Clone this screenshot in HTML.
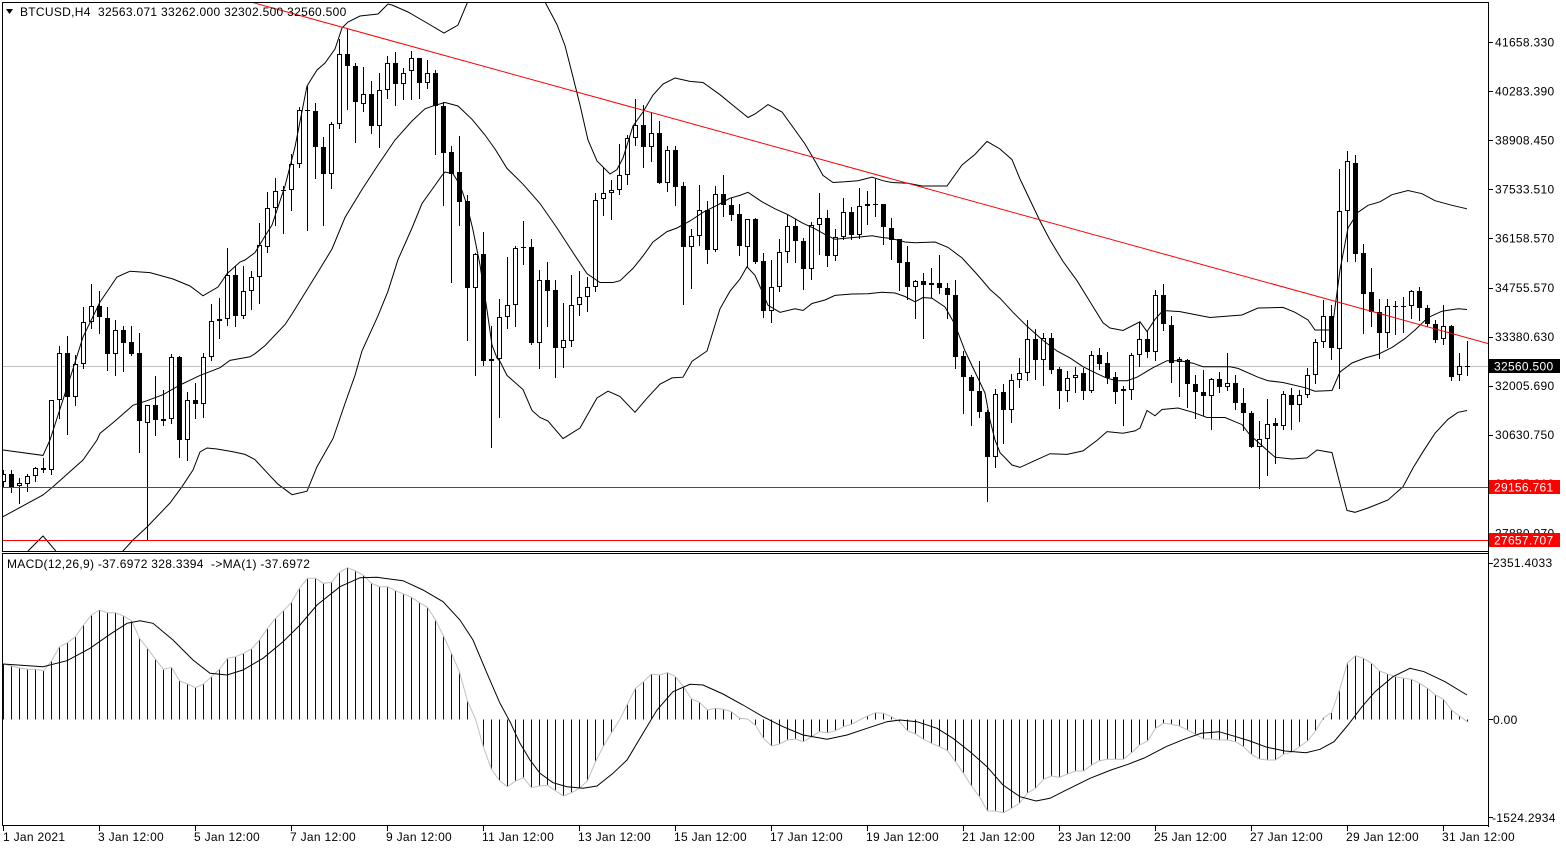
<!DOCTYPE html>
<html><head><meta charset="utf-8">
<style>
html,body{margin:0;padding:0;background:#fff;}
svg{display:block;}
text{font-family:"Liberation Sans",Arial,sans-serif;font-size:12px;letter-spacing:0.3px;fill:#000;}
</style></head><body>
<svg id="s" width="1566" height="850" viewBox="0 0 1566 850" xmlns="http://www.w3.org/2000/svg">
<defs>
<clipPath id="cm"><rect x="3" y="3" width="1485" height="548"/></clipPath>
<clipPath id="cd"><rect x="3" y="554" width="1485" height="271"/></clipPath>
</defs>
<rect width="1566" height="850" fill="#fff"/>

<g clip-path="url(#cm)">
 <line x1="3" y1="366.5" x2="1488" y2="366.5" stroke="#c0c0c0" shape-rendering="crispEdges"/>
 <g id="candles" shape-rendering="crispEdges"></g>
 <g fill="none" stroke="#000" stroke-width="1">
 <polyline points="0,449 3,450 43,455.4 50,440 60,409 72,372 83,337 100,302 117,277 130,271.2 150,272.6 173,279 190,286 203,295.8 218,287 227,273.7 240,262 245,260 255,252.6 265,236 272,225 285,186 295,147 307,86 317,70 325,63 335,49 342,28 348,22 360,16 378,14 388,4 392,5 408,12 427,23 444,33 458,25 467,3.5 480,-30 500,-50 530,-30 545,2 557,24.6 565,45.6 573,77 580,105 588,140 597,161 610,174 617,169.5 623,158 633,126 643,112 653,95 663,84 675,78 690,81.4 703,82.5 720,94.7 735,107 748,117.5 755,114 768,104.6 782,112 795,130 805,144 815,161 823,175.4 833,182.5 845,181.8 858,180.7 872,177.2 883,180.7 892,182.5 908,183.2 922,186 947,186 962,165 975,154.4 987,141.4 1000,149 1012,159.6 1020,179 1030,200 1040,221 1050,240 1063,261.4 1077,280.7 1090,301.8 1103,322.8 1110,328 1123,330.5 1140,321.8 1147,331.6 1155,319.3 1163,310.5 1180,311.6 1197,315 1210,317.5 1242,315 1258,308 1283,307.4 1295,312.3 1308,320 1315,330 1332,330 1340,270 1348,228 1358,212.3 1368,205.3 1380,201.8 1392,194.7 1408,190.5 1422,193.7 1435,200.7 1452,205.3 1467,208.8"/>
 <polyline points="0,518 3,516.7 43,495 53,486.7 83,460 97,440 100,433.3 113,422.8 133,405.3 147,400.7 163,394.7 180,385 200,375.4 220,367.7 230,360.4 250,356.8 255,353.7 265,345.6 285,324.6 292,314 305,293 318,272 332,249 345,217.5 362,189.5 378,165 395,140 412,121 425,108.8 435,105.3 445,102.5 458,106 472,119.3 485,135 495,149 507,168.4 523,184.2 540,203.5 557,228 573,252.6 587,273.7 600,282.5 613,282.5 620,280.7 633,268.4 643,256 653,242 667,231.6 677,228 690,221 703,212.3 717,205.3 730,198.2 740,195.4 748,192.3 762,201.8 775,208.8 788,214.7 802,222.8 815,228.8 825,234.4 835,239.3 848,238 862,236.8 872,235.8 882,237.5 892,238.6 905,242 915,242.8 935,242 948,247.4 962,257.9 975,272 985,283.5 990,289.5 1000,298.2 1013,312.3 1027,326.3 1043,340.4 1057,351 1070,357.9 1083,366.7 1097,373.7 1107,378.2 1117,380.7 1127,380.7 1137,377.2 1153,367.7 1167,360.7 1180,360.7 1193,363.2 1203,366.7 1230,366.7 1238,368.4 1258,377.2 1268,380.7 1283,382.5 1305,387.7 1315,391.2 1332,390.5 1340,372 1352,363 1365,358 1378,354.4 1392,347.4 1405,338.6 1415,330 1428,317.5 1442,311.2 1458,308.8 1467,309.5"/>
 <polyline points="3,580 29,550 43,536 55,550 75,580 100,580 123,551 133,540 147,527 170,503 182,486.7 193,470 200,452 207,448 217,449 233,451.7 245,454.4 255,459.6 268,473.7 278,484.2 292,494.7 307,491.2 317,466.7 325,452.6 333,438.6 345,403.5 355,375.4 362,350.9 378,315.8 388,291.2 398,259.6 412,228 422,203.5 432,189.5 442,175.4 445,172 453,173.7 460,185 467,205 473,230 480,265 487,310 492,345 497,358 500,361.4 507,375.4 523,389.5 532,410.5 540,417.5 548,421 563,438.6 580,428 597,398 608,391.2 620,396.5 635,412.3 647,398.2 660,384.2 672,377.9 683,377.2 692,361.4 707,351 720,308.8 730,291.2 740,279 747,266.7 755,275.4 762,291.2 768,305.3 780,312.3 795,308.8 803,310.5 812,303.5 825,300 835,295.4 852,294 868,293.7 882,292.3 895,293 905,296.5 915,301.8 923,297.5 932,298.2 945,307 955,324.6 965,350.9 975,372 985,393 990,420 995,440 1000,452.6 1012,465 1020,467.4 1033,461.4 1050,453.7 1067,454.4 1083,450.9 1097,440.4 1107,431.6 1123,433.3 1135,430.9 1140,428 1147,410.5 1155,415.8 1162,409.5 1178,408 1193,412.3 1207,417.5 1225,417.5 1242,424.6 1250,435 1275,457.2 1292,459 1307,457.9 1317,450 1332,452.6 1340,484 1347,510.5 1355,512.3 1368,508 1388,500 1403,486.7 1413,468 1423,451.7 1435,433.3 1448,419.3 1458,412.3 1467,410.5"/>
 </g>
 <rect x="3" y="487" width="1485" height="1" fill="#ff0000"/>
 <rect x="3" y="540" width="1485" height="1" fill="#ff0000"/>
 <line x1="240" y1="-1" x2="1488" y2="343.5" stroke="#ff0000" stroke-width="1"/>
</g>

<g clip-path="url(#cd)">
 <g id="macd" shape-rendering="crispEdges"></g>
 <polyline id="mline" fill="none" stroke="#c0c0c0" stroke-width="1"/>
 <polyline fill="none" stroke="#000" stroke-width="1" points="3,664 43,666.7 67,660.7 90,648.3 110,634.3 127,623.3 140,620.7 153,623.3 173,640 193,660 210,673.3 227,675 243,670 263,658.3 283,641.7 300,625 317,605 340,586.7 360,577.7 377,577.3 403,580.7 423,590 443,601.7 460,620 473,640 487,673.3 500,703.3 510,721.7 520,743.3 530,760 540,773.3 553,782.7 567,786.7 583,788.3 597,786 613,773.3 627,760 643,733.3 657,710 673,691.7 690,684.3 703,685 723,694 743,705 763,716.7 783,726.7 803,735 827,739.3 847,735 867,728.3 887,721.7 900,720 917,721.7 937,728.3 953,738.3 970,751.7 987,766.7 1003,785 1020,796.7 1036,801 1050,798.3 1065,790.7 1090,778.3 1111,770 1128,764.3 1145,757.7 1166,746.7 1184,739.3 1201,733.3 1219,731.7 1236,736.7 1250,741 1267,747.3 1285,751 1306,752.7 1320,749.3 1334,741.7 1348,725 1362,706.7 1375,691.7 1393,676.7 1410,668.3 1424,671.7 1445,681.7 1467,695"/>
</g>

<g stroke="#000" shape-rendering="crispEdges" fill="none">
 <path d="M2 2.5H1489 M2.5 2V552 M1488.5 2V827 M2 551.5H1489 M2 553.5H1489 M2.5 553V826 M2 825.5H1489"/>
 <path d="M1489 42.5h4 M1489 91.5h4 M1489 140.5h4 M1489 189.5h4 M1489 238.5h4 M1489 288.5h4 M1489 337.5h4 M1489 386.5h4 M1489 435.5h4 M1489 533.5h4 M1489 563.5h4 M1489 719.5h4 M1489 817.5h4"/>
 <path d="M3.5 826v5 M99.5 826v5 M195.5 826v5 M291.5 826v5 M387.5 826v5 M483.5 826v5 M579.5 826v5 M675.5 826v5 M771.5 826v5 M867.5 826v5 M963.5 826v5 M1059.5 826v5 M1155.5 826v5 M1251.5 826v5 M1347.5 826v5 M1443.5 826v5"/>
</g>

<polygon points="6,9 13,9 9.5,14" fill="#000"/>
<text x="20" y="16">BTCUSD,H4&#160;&#160;32563.071 33262.000 32302.500 32560.500</text>
<text x="7" y="568">MACD(12,26,9) -37.6972 328.3394&#160;&#160;-&gt;MA(1) -37.6972</text>

<g>
<text x="1495" y="46.5">41658.330</text>
<text x="1495" y="95.5">40283.390</text>
<text x="1495" y="144.5">38908.450</text>
<text x="1495" y="193.5">37533.510</text>
<text x="1495" y="242.5">36158.570</text>
<text x="1495" y="292">34755.570</text>
<text x="1495" y="341">33380.630</text>
<text x="1495" y="390">32005.690</text>
<text x="1495" y="439">30630.750</text>
<text x="1495" y="488">29255.810</text>
<text x="1495" y="537.5">27880.970</text>
</g>
<rect x="1489" y="359" width="71" height="14" fill="#000"/>
<text x="1494" y="370.5" style="fill:#fff">32560.500</text>
<rect x="1489" y="480" width="71" height="14" fill="#ff0000"/>
<text x="1494" y="491.5" style="fill:#fff">29156.761</text>
<rect x="1489" y="533" width="71" height="14" fill="#ff0000"/>
<text x="1494" y="544.5" style="fill:#fff">27657.707</text>

<text x="1493" y="567">2351.4033</text>
<text x="1493" y="724">0.00</text>
<text x="1492" y="822">-1524.2934</text>

<g>
<text x="3" y="841">1 Jan 2021</text>
<text x="98" y="841">3 Jan 12:00</text>
<text x="194" y="841">5 Jan 12:00</text>
<text x="290" y="841">7 Jan 12:00</text>
<text x="386" y="841">9 Jan 12:00</text>
<text x="482" y="841">11 Jan 12:00</text>
<text x="578" y="841">13 Jan 12:00</text>
<text x="674" y="841">15 Jan 12:00</text>
<text x="770" y="841">17 Jan 12:00</text>
<text x="866" y="841">19 Jan 12:00</text>
<text x="962" y="841">21 Jan 12:00</text>
<text x="1058" y="841">23 Jan 12:00</text>
<text x="1154" y="841">25 Jan 12:00</text>
<text x="1250" y="841">27 Jan 12:00</text>
<text x="1346" y="841">29 Jan 12:00</text>
<text x="1442" y="841">31 Jan 12:00</text>
</g>
</svg>
<script>
(function(){
var NS="http://www.w3.org/2000/svg";
function el(t,a,p){var e=document.createElementNS(NS,t);for(var k in a)e.setAttribute(k,a[k]);p.appendChild(e);return e;}
var D=[
"w 474 482 470 486","b 474 487 470 492","w 483 486 478 503","w 476 483.5 474 491","w 468 476 467 481",
"w 468 469.5 458 472","w 400 469.5 400 474","w 352.6 400 345.6 417.5","b 352.6 396.5 336 434","w 364 396.5 355 405",
"w 322 364 307 368","w 306 322 284 328","b 306 316.5 291 333","b 317.5 353.7 307 369.5","w 330 353.7 320 375",
"b 330 343 326 371","b 342 353.7 326 355","b 353.3 421 333 451.6","w 405 423 405 539","b 405 420 376 435",
"w 419 421 389.5 424.5","w 357 419 354 423","b 357 440 356 457","w 400 440 392 460","b 400 403.5 382.5 417.5",
"w 357 403.5 352.6 416.5","w 321 357 303.5 360","w 319 321 297.5 338","w 275.4 319 248 325","b 275.4 316 265.6 326",
"w 291 316 266 317.5","w 277 291 271 309","w 245 277 223 302.5","w 208 246.7 192 251.6","w 190.5 208 178 224.6",
"w 189.5 190.5 186 232.6","w 164 189.5 154 210","w 109.5 164 107 166.7","b 110 111 86 230","b 111 147 102.5 178",
"b 147 173.7 137 224.6","w 123.5 173.7 122 187.7","w 54.4 123.5 38.6 128","b 54.4 65.6 29 108.8","b 65.6 101.8 63 142",
"w 94 103.5 66.7 110.5","b 94 126 81.4 132.6","w 89.5 126 73 147","w 63 89.5 56 98","b 62.5 84 52 104.6",
"w 72.6 84 68.4 99","w 58 71 51 99","b 58 82.5 58 97.5","w 73 82.5 60 87.7","b 73 106 70 154.4",
"b 106 152.6 101.8 204.6","b 152 173.7 145.6 281.8","b 172 201.8 136 224.6","b 201 287.7 194.7 340.4","w 253.7 287.7 252.6 375.4",
"b 253.7 361.4 231.6 365","w 359 361.4 325.6 447.4","w 316.5 359 299 417","w 304.6 316.5 257 328","w 248 304.6 245.6 326.3",
"b 247.4 248.4 221 264","b 247.4 342.8 239 344","w 280 342.8 269.5 368.4","b 280 291 262 326.3","b 290 348.4 280 376.5",
"w 340 348.4 302.8 367.4","w 304.6 341.4 274.7 345.6","w 296.5 304.6 271 315","w 287 296.5 277 310.5","w 200 287 193 291",
"w 193 199.3 167.4 214.7","w 190 193 179.6 218.6","w 175.4 190 143.9 193.7","w 138 175.4 135 183.5","w 124.6 138 99.3 144.6",
"b 124.6 147.4 105 166.7","w 133.3 147.4 112.3 160.7","b 133.3 182.5 121 182.5","w 150 182.5 145.6 191.2","b 150 186.7 145.6 204.6",
"b 186 247.4 181.8 303.5","w 235.8 247.4 228.8 288.4","w 209.8 235.8 185.3 245","b 209.8 249.8 200.7 262.5","w 193.7 249.8 186 251",
"b 193.7 204.6 175.4 215.8","b 204.6 214.7 198 220.4","b 214 245.6 203.5 255.4","w 219.3 247.4 219.3 266.7","b 219.3 262 218 263",
"b 261.4 310.5 252.6 316.8","w 286.7 310.5 259.6 321.8","w 251.6 286.7 238.6 291.2","w 226.3 251.6 214.7 262","b 226.3 241.4 219.3 262",
"b 241.4 269 238 288.8","w 224.6 269 222 279","w 217.5 224.6 193 254.4","b 217.5 256 209.8 265.6","w 236.8 256 229 260.4",
"w 211.6 236.8 197.5 238.6","b 211.6 235 207 238.6","w 206.3 235 188.4 237.5","w 204.2 206.3 191.2 223.5","b 203.5 204.2 179 215.8",
"b 203.5 227.4 203.5 243.9","b 228 240.4 217.5 258.6","b 239.3 262.5 238.6 290.2","b 262 287 246.3 299","w 281.4 287 280 318.2",
"b 281.4 285.3 273 338","w 283.2 285.3 268.4 296.5","b 283.2 287.7 255.4 293","b 287.7 295.4 282.5 317.5","b 295.4 356.8 279.6 368.4",
"b 356 376.5 351 413.3","b 376.5 390.5 375.4 424.6","b 390.5 412.3 361.4 416.8","b 412.3 456.8 410 500.7","w 393.7 456.8 388.8 466.7",
"b 392.3 409.8 384.2 442.8","w 380 409.8 373.7 422","w 373 380 357.9 387","w 339.3 373 320 379.6","b 339.3 360.4 329 379",
"w 337.5 360.4 333.3 385","b 337.5 369.5 332.6 372.6","b 369 390.5 366.7 407.7","w 377.9 390.5 371.2 400.7","w 374.7 377.9 366.7 392.3",
"b 373 390.5 368.4 399.3","w 355.4 390.5 350.9 392","b 355.4 363.9 348.4 369.1","b 363.2 377.9 352 382.5","b 377.2 392 372 402.5",
"w 388.8 391.2 386 424.6","w 355.4 389.5 352.6 399.3","w 338.6 355.4 321.8 365.6","b 338.6 352 331 356.8","w 295.4 352 290.2 359.6",
"b 295.4 323.9 284.2 329.8","b 324.6 362.5 315.8 381.8","w 359 362 357.2 395.8","b 359.6 383.5 359 407","b 383.5 392.3 375.4 418.2",
"b 392.3 395.8 370 415","w 379 395.8 378.2 428.8","b 379 386.7 372 392","w 382.5 386.7 352.6 389.5","b 382.5 402.5 375.4 408.8",
"b 402.5 413.3 387.7 429.8","b 413.3 447.4 410.5 447.4","w 438.6 447.4 421 487.7","w 423.9 438.6 399 475.4","b 422.8 425.6 418.2 462.5",
"w 393.7 425.6 390.5 428.8","b 394.7 404.6 388.4 428.8","w 394.7 404.6 389.5 421","w 374.7 394.7 367.7 396.5","w 342 374.7 339.3 382.5",
"w 315.8 342 300 346.7","b 315.8 348.4 305 358.6","w 210.5 349 169 387.7","w 161.4 210.5 150.9 261.4","b 162.5 253.7 155 260.7",
"b 253.3 293.7 243.9 333.3","b 292.3 311.6 268.4 326.3","b 311.6 333.3 299.3 357.9","w 306.3 333.3 299.3 346.7","w 306.3 307 300.7 334.4",
"b 306.3 307 296.5 331.6","w 291.2 306.3 289.5 317.5","b 290.5 307.7 287 320","b 307.7 323.5 305.3 326.3","b 323.5 340.4 320 342",
"w 326.3 339.3 305.3 343.9","b 326.3 376.5 325.3 379.6","w 365.6 375.4 352.6 380","b 365.6 366.2 341.2 375.4"
];
var g=document.getElementById('candles');
D.forEach(function(s,i){
 var p=s.split(' ');var t=p[0];
 var top=Math.round(+p[1]),bot=Math.round(+p[2]),hi=Math.round(+p[3]),lo=Math.round(+p[4]);
 var cx=3+8*i;
 el('line',{x1:cx+0.5,y1:hi,x2:cx+0.5,y2:lo+1,stroke:'#000'},g);
 var h=bot-top;
 if(h<2){el('rect',{x:cx-2,y:top,width:5,height:Math.max(1,h),fill:'#000'},g);}
 else if(t==='w'){el('rect',{x:cx-1.5,y:top+0.5,width:4,height:h-1,fill:'#fff',stroke:'#000'},g);}
 else {el('rect',{x:cx-2,y:top,width:5,height:h,fill:'#000'},g);}
});
var M=[664,666,668,669.3,669.3,670.7,661,646.7,642.7,636.7,625,615,610,612.7,612.7,616,620.7,638.3,648.3,659.3,
669.3,667.3,680.7,684,687.7,684,676.7,669.3,658.3,656.7,653.3,649,640,628.3,618.3,610.7,602.3,588.3,578.3,578.3,
583.3,582.3,572.3,567.7,571,575.3,583.3,586.7,586.7,590.7,594,597.3,602.7,607.3,620,636,653.3,672,701,719,
747.3,769.3,780.7,786.7,781,777.7,787.7,786,785.3,790.7,796,792.7,788.3,780.7,761.7,746,732.7,720,704,688.3,
681.7,674,675,672.7,676.7,686.7,699,702.3,710,708.3,709.3,711.7,718.3,719,725.3,738.3,746,744,740,739,
741.7,736.7,731.7,732.7,730.7,726.7,724.3,720,716,712.7,713.3,716.7,721.7,730.7,734,739.3,743.3,746.7,750.7,761.7,
773.3,786,796.7,811,811,812.7,808.3,803.3,793,788.3,779.3,776,777.3,774,771,771,765,760.7,759.3,759.3,
759.3,752.7,745,741,728.3,723.3,724.3,726,730,734.3,739,739,740,740,741.7,746.7,754.3,759,760,760,
754.3,752.3,746.7,741,731,717.7,712.7,690,662.7,655.7,658.3,663.3,671,674,676.7,678.3,679.3,683.3,688.3,695,
699.3,710,716,721.8];
var mg=document.getElementById('macd');var pts=[];
M.forEach(function(v,i){var x=3+8*i+0.5;var y=Math.round(v);
 if(Math.abs(v-719.5)>=1){el('line',{x1:x,y1:719.5,x2:x,y2:y,stroke:'#000080'},mg);}
 pts.push(x+','+v);});
document.getElementById('mline').setAttribute('points',pts.join(' '));
})();
</script>
</body></html>
